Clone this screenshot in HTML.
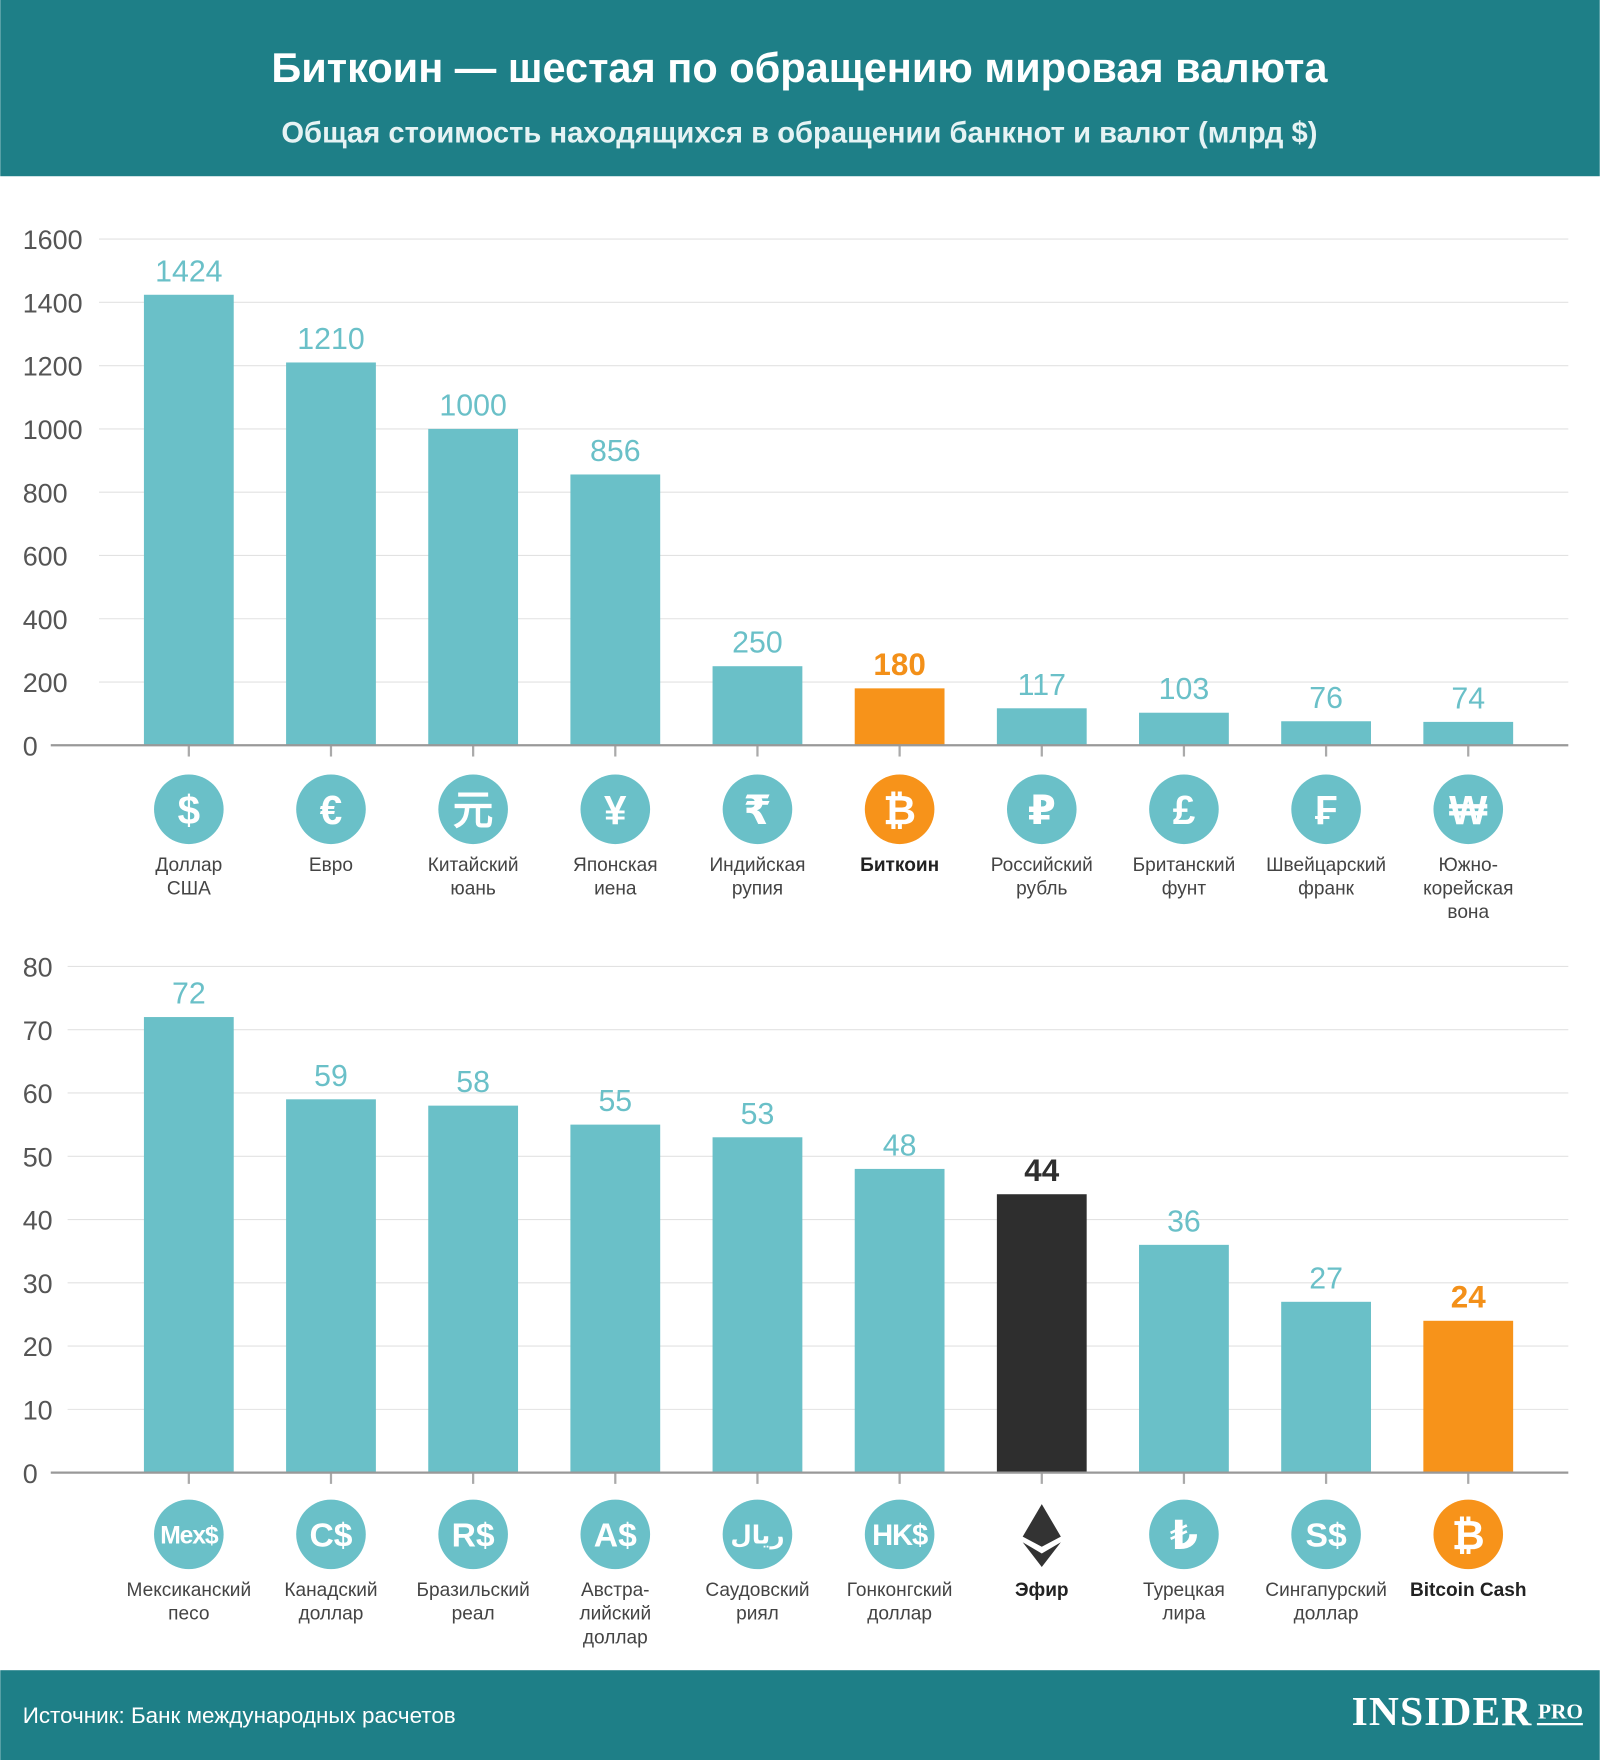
<!DOCTYPE html>
<html><head><meta charset="utf-8"><style>
html,body{margin:0;padding:0;background:#fff}
svg{display:block}
text{font-family:"Liberation Sans","DejaVu Sans",sans-serif}
text.serif{font-family:"Liberation Serif",serif}
</style></head><body>
<svg id="chart" width="1600" height="1760" viewBox="0 0 1425 1568" xmlns="http://www.w3.org/2000/svg">
<rect x="0" y="0" width="1425" height="157" fill="#1e7f87"/>
<text x="712" y="73" text-anchor="middle" font-size="37" font-weight="bold" fill="#fff">Биткоин — шестая по обращению мировая валюта</text>
<text x="712" y="127" text-anchor="middle" font-size="26" font-weight="bold" fill="#e6f3f4">Общая стоимость находящихся в обращении банкнот и валют (млрд $)</text>
<g id="c1"></g>
<g id="c2"></g>
<rect x="0" y="1488" width="1425" height="80" fill="#1e7f87"/>
<text x="20" y="1535" font-size="20" fill="#fff">Источник: Банк международных расчетов</text>
<text class="serif" x="1204" y="1537" font-size="37" font-weight="bold" fill="#fff" textLength="160">INSIDER</text>
<text class="serif" x="1370" y="1531" font-size="19" font-weight="bold" fill="#fff">PRO</text>
<line x1="1369" y1="1536" x2="1410" y2="1536" stroke="#fff" stroke-width="2"/>
</svg>
<script>
const cats1=["Доллар|США","Евро","Китайский|юань","Японская|иена","Индийская|рупия","Биткоин","Российский|рубль","Британский|фунт","Швейцарский|франк","Южно-|корейская|вона"];
const vals1=[1424,1210,1000,856,250,180,117,103,76,74];
const sym1=["$","€","元","¥","₹","₿","₽","£","₣","₩"];
const ticks1=[0,200,400,600,800,1000,1200,1400,1600];
const cats2=["Мексиканский|песо","Канадский|доллар","Бразильский|реал","Австра-|лийский|доллар","Саудовский|риял","Гонконгский|доллар","Эфир","Турецкая|лира","Сингапурский|доллар","Bitcoin Cash"];
const vals2=[72,59,58,55,53,48,44,36,27,24];
const sym2=["Mex$","C$","R$","A$","ريال","HK$","ETH","₺","S$","₿"];
const ticks2=[0,10,20,30,40,50,60,70,80];
const kind1=["n","n","n","n","n","b","n","n","n","n"];
const kind2=["n","n","n","n","n","n","e","n","n","b"];
const NS="http://www.w3.org/2000/svg";
function mk(p,t,a){const e=document.createElementNS(NS,t);for(const k in a)e.setAttribute(k,a[k]);p.appendChild(e);return e;}
function draw(g,cats,vals,syms,ticks,kinds,y0,yTop,gx0,iconY){
  const max=ticks[ticks.length-1];
  const y=v=>y0-(v/max)*(y0-yTop);
  const x=i=>168+i*126.65;
  ticks.forEach(t=>{
    if(t>0){const l=mk(g,"line",{x1:gx0,x2:1397,y1:y(t),y2:y(t),stroke:"#e2e2e2","stroke-width":1});
    
    }
    const tx=mk(g,"text",{x:20,y:y(t)+9,"font-size":24,fill:"#555"});tx.textContent=t;
    
    
  });
  vals.forEach((v,i)=>{
    const k=kinds[i];
    const col=k==="b"?"#f7931a":k==="e"?"#2e2e2e":"#6ac0c8";
    const b=mk(g,"rect",{x:x(i)-40,y:y(v),width:80,height:y0-y(v),fill:col});
    
    
    const vt=mk(g,"text",{x:x(i),y:y(v)-12,"text-anchor":"middle","font-size":k==="n"?27:28,"font-weight":k==="n"?"normal":"bold",fill:k==="b"?"#f39019":k==="e"?"#2e2e2e":"#6ac0c8"});
    vt.textContent=v;
    
    
    mk(g,"line",{x1:x(i),x2:x(i),y1:y0,y2:y0+10,stroke:"#aaa","stroke-width":2});
    if(k==="e"){
      const d=mk(g,"polygon",{points:`${x(i)},${iconY-27} ${x(i)+17},${iconY+2} ${x(i)},${iconY+11} ${x(i)-17},${iconY+2}`,fill:"#333"});
      
      
      mk(g,"polygon",{points:`${x(i)-17},${iconY+7} ${x(i)},${iconY+17} ${x(i)+17},${iconY+7} ${x(i)},${iconY+29}`,fill:"#333"});
    } else {
      const c=mk(g,"circle",{cx:x(i),cy:iconY,r:31,fill:k==="b"?"#f7931a":"#6ac0c8"});
      
      
      const s=syms[i];
      const fs=s.length>=4?22:s.length>=3?26:s.length==2?30:36;
      const st=mk(g,"text",{x:x(i),y:iconY+fs*0.36,"text-anchor":"middle","font-size":fs,"font-weight":"bold",fill:"#fff","letter-spacing":s.length>=3?-1:0});
      st.textContent=s;
    }
    cats[i].split("|").forEach((ln,j)=>{
      const t=mk(g,"text",{x:x(i),y:iconY+55+j*21,"text-anchor":"middle","font-size":17,"font-weight":k==="n"?"normal":"bold",fill:k==="n"?"#444":"#222"});
      t.textContent=ln;
      
      
    });
  });
  const bl=mk(g,"line",{x1:45,x2:1397,y1:y0,y2:y0,stroke:"#999","stroke-width":2});
  
  
}
draw(document.getElementById("c1"),cats1,vals1,sym1,ticks1,kind1,664,213,88,721);
draw(document.getElementById("c2"),cats2,vals2,sym2,ticks2,kind2,1312,861,60,1367);
</script>
</body></html>
